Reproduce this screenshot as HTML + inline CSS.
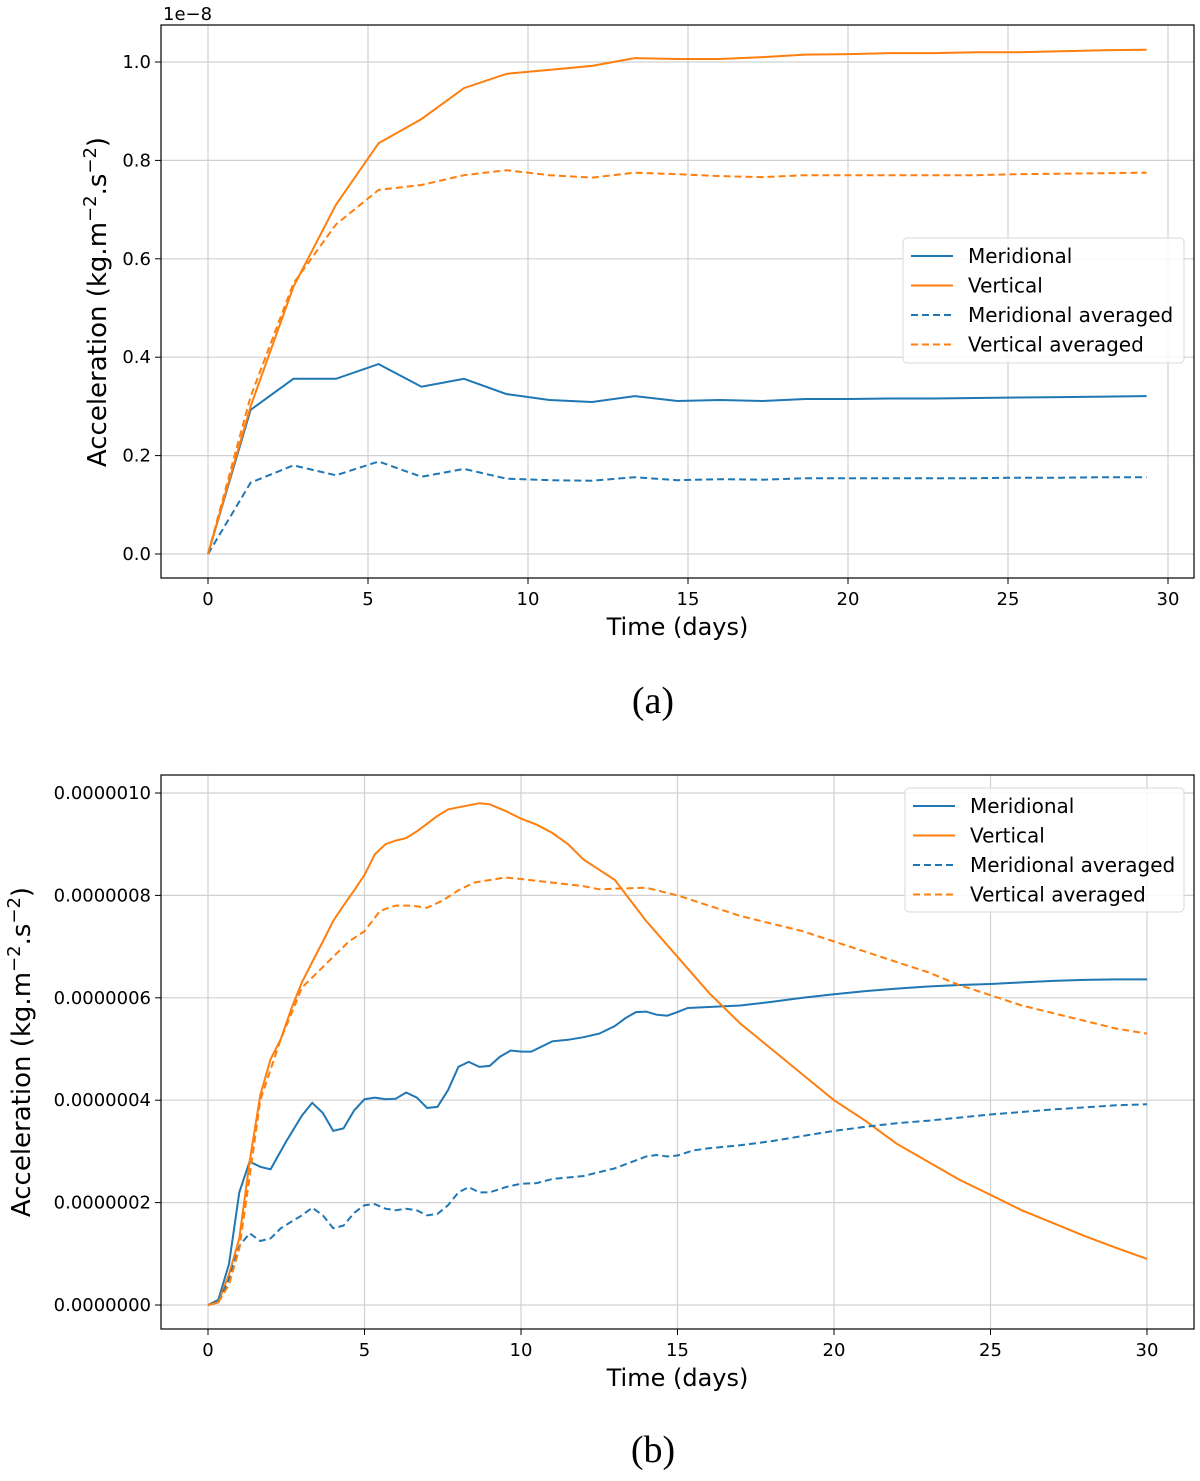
<!DOCTYPE html>
<html><head><meta charset="utf-8"><style>
body{margin:0;background:#fff}
svg text{font-family:"DejaVu Sans","Liberation Sans",sans-serif;fill:#000}
</style></head><body>
<svg id="root" width="1200" height="1476" viewBox="0 0 1200 1476" xmlns="http://www.w3.org/2000/svg">
<g id="chartA"></g>
<g id="chartB"></g>
<text x="653" y="713" text-anchor="middle" style="font-family:'Liberation Serif',serif;font-size:38px">(a)</text>
<text x="653" y="1462" text-anchor="middle" style="font-family:'Liberation Serif',serif;font-size:38px">(b)</text>
</svg>
<script>
// ---- Chart (a) data (units 1e-8), t = i*4/3 days ----
const aTimes = [0,1.33,2.67,4,5.33,6.67,8,9.33,10.67,12,13.33,14.67,16,17.33,18.67,20,21.33,22.67,24,25.33,26.67,28,29.33];
const aMeridional = [0,0.293,0.356,0.356,0.386,0.34,0.356,0.325,0.313,0.309,0.321,0.311,0.313,0.311,0.315,0.315,0.316,0.316,0.317,0.318,0.319,0.32,0.321];
const aVertical = [0,0.30,0.543,0.71,0.835,0.884,0.947,0.976,0.984,0.992,1.008,1.006,1.006,1.01,1.015,1.016,1.018,1.018,1.02,1.02,1.022,1.024,1.025];
const aMeridionalAvg = [0,0.145,0.18,0.16,0.188,0.157,0.173,0.153,0.15,0.149,0.156,0.15,0.152,0.151,0.154,0.154,0.154,0.154,0.154,0.155,0.155,0.156,0.156];
const aVerticalAvg = [0,0.32,0.55,0.67,0.74,0.75,0.77,0.78,0.77,0.765,0.775,0.772,0.768,0.766,0.77,0.77,0.77,0.77,0.77,0.772,0.773,0.774,0.775];
const aXTicks = [0,5,10,15,20,25,30];
const aYTicks = [0,0.2,0.4,0.6,0.8,1.0];
const aYTickLabels = ["0.0","0.2","0.4","0.6","0.8","1.0"];

// ---- Chart (b) data (units 1e-7) ----
const bVTimes = [0,0.33,0.67,1,1.33,1.67,2,2.33,2.67,3,3.33,3.67,4,4.33,4.67,5,5.33,5.67,6,6.33,6.67,7,7.33,7.67,8,8.33,8.67,9,9.5,10,10.5,11,11.5,12,12.5,13,13.5,14,15,16,17,18,19,20,21,22,23,24,25,26,27,28,29,30];
const bVertical = [0,0.05,0.6,1.3,2.8,4.1,4.8,5.2,5.8,6.3,6.7,7.1,7.5,7.8,8.1,8.4,8.8,9.0,9.07,9.12,9.25,9.4,9.55,9.68,9.72,9.76,9.8,9.78,9.65,9.5,9.38,9.22,9.0,8.7,8.5,8.3,7.9,7.5,6.8,6.1,5.5,5.0,4.5,4.0,3.6,3.15,2.8,2.45,2.15,1.85,1.6,1.35,1.12,0.9];
const bVATimes = [0,0.33,0.67,1,1.33,1.67,2,2.33,2.67,3,3.5,4,4.5,5,5.5,6,6.5,7,7.5,8,8.5,9,9.5,10,11,12,12.5,13,14,15,16,17,18,19,20,21,22,23,24,25,26,27,28,29,30];
const bVerticalAvg = [0,0.05,0.4,1.1,2.5,4.0,4.6,5.2,5.7,6.2,6.5,6.8,7.1,7.3,7.7,7.8,7.8,7.76,7.9,8.1,8.25,8.3,8.35,8.32,8.25,8.18,8.12,8.13,8.15,8.0,7.8,7.6,7.45,7.3,7.1,6.9,6.7,6.5,6.25,6.05,5.85,5.7,5.55,5.4,5.3];
const bMTimes = [0,0.33,0.67,1,1.33,1.67,2,2.5,3,3.33,3.67,4,4.33,4.67,5,5.33,5.67,6,6.33,6.67,7,7.33,7.67,8,8.33,8.67,9,9.33,9.67,10,10.33,11,11.5,12,12.5,13,13.33,13.67,14,14.33,14.67,15,15.33,16,17,18,19,20,21,22,23,24,25,26,27,28,29,30];
const bMeridional = [0,0.1,0.8,2.2,2.8,2.7,2.65,3.2,3.7,3.95,3.75,3.4,3.45,3.8,4.02,4.05,4.02,4.03,4.15,4.05,3.85,3.87,4.2,4.65,4.75,4.65,4.67,4.85,4.97,4.95,4.95,5.15,5.18,5.23,5.3,5.45,5.6,5.72,5.73,5.67,5.65,5.72,5.8,5.82,5.85,5.92,6.0,6.07,6.13,6.18,6.22,6.25,6.27,6.3,6.33,6.35,6.36,6.36];
const bMATimes = [0,0.33,0.67,1,1.33,1.67,2,2.33,2.67,3,3.33,3.67,4,4.33,4.67,5,5.33,5.67,6,6.33,6.67,7,7.33,7.67,8,8.33,8.67,9,9.5,10,10.5,11,12,13,14,14.33,14.67,15,15.5,16,17,18,19,20,21,22,23,24,25,26,27,28,29,30];
const bMeridionalAvg = [0,0.05,0.5,1.15,1.4,1.25,1.3,1.5,1.63,1.75,1.9,1.75,1.5,1.55,1.8,1.95,1.97,1.88,1.85,1.88,1.85,1.75,1.78,1.95,2.2,2.3,2.2,2.2,2.3,2.37,2.38,2.46,2.52,2.67,2.9,2.93,2.9,2.92,3.02,3.06,3.12,3.2,3.3,3.4,3.48,3.55,3.6,3.66,3.72,3.77,3.82,3.86,3.9,3.92];
const bXTicks = [0,5,10,15,20,25,30];
const bYTicks = [0,2,4,6,8,10];
const bYTickLabels = ["0.0000000","0.0000002","0.0000004","0.0000006","0.0000008","0.0000010"];
const legendLabels = ["Meridional","Vertical","Meridional averaged","Vertical averaged"];

const NS="http://www.w3.org/2000/svg";
function mk(parent,tag,attrs){const e=document.createElementNS(NS,tag);for(const k in attrs)e.setAttribute(k,attrs[k]);parent.appendChild(e);return e;}

function drawChart(g,cfg){
  const X=v=>cfg.x0+(v-cfg.xmin)*cfg.xs;
  const Y=v=>cfg.y0-v*cfg.ys;
  cfg.xTicks.forEach(t=>{
    const l=mk(g,'line',{x1:X(t),x2:X(t),y1:cfg.top,y2:cfg.bottom,stroke:'#d0d0d0','stroke-width':1.2});
    
    
    const tk=mk(g,'line',{x1:X(t),x2:X(t),y1:cfg.bottom,y2:cfg.bottom+6,stroke:'#000','stroke-width':1});
    
    
    const tx=mk(g,'text',{x:X(t),y:cfg.bottom+27,'text-anchor':'middle','font-size':18});
    tx.textContent=t;
    
    
  });
  cfg.yTicks.forEach((t,i)=>{
    const l=mk(g,'line',{x1:cfg.left,x2:cfg.right,y1:Y(t),y2:Y(t),stroke:'#d0d0d0','stroke-width':1.2});
    
    
    const tk=mk(g,'line',{x1:cfg.left-6,x2:cfg.left,y1:Y(t),y2:Y(t),stroke:'#000','stroke-width':1});
    
    
    const tx=mk(g,'text',{x:cfg.left-10,y:Y(t)+6,'text-anchor':'end','font-size':18});
    tx.textContent=cfg.yLabels[i];
    
    
  });
  const sty=[['#1f77b4',''],['#ff7f0e',''],['#1f77b4','7,4'],['#ff7f0e','7,4']];
  const names=['meridional-line','vertical-line','meridional-averaged-line','vertical-averaged-line'];
  cfg.series.forEach((s,i)=>{
    const d=s.t.map((t,j)=>(j?'L':'M')+X(t).toFixed(1)+','+Y(s.v[j]).toFixed(1)).join('');
    const p=mk(g,'path',{d:d,fill:'none',stroke:sty[i][0],'stroke-width':2,'stroke-dasharray':sty[i][1]||'none'});
    
    
  });
  const fr=mk(g,'rect',{x:cfg.left,y:cfg.top,width:cfg.right-cfg.left,height:cfg.bottom-cfg.top,fill:'none',stroke:'#000','stroke-width':1.2});
  
  
  const xl=mk(g,'text',{x:(cfg.left+cfg.right)/2,y:cfg.bottom+57,'text-anchor':'middle','font-size':24});
  xl.textContent='Time (days)';
  
  
  const yl=mk(g,'text',{transform:`translate(${cfg.ylx},${cfg.yly}) rotate(-90)`,'text-anchor':'middle','font-size':26});
  yl.innerHTML='Acceleration (kg.m<tspan dy="-10" font-size="18">−2</tspan><tspan dy="10">.s</tspan><tspan dy="-10" font-size="18">−2</tspan><tspan dy="10">)</tspan>';
  
  
  const L=cfg.legend;
  const lg=mk(g,'g',{});
  
  
  mk(lg,'rect',{x:L.x,y:L.y,width:L.w,height:L.h,rx:4,fill:'#fff','fill-opacity':0.85,stroke:'#d8d8d8'});
  legendLabels.forEach((lab,i)=>{
    const yy=L.y+18+i*29.5;
    const ln=mk(lg,'line',{x1:L.x+8,x2:L.x+50,y1:yy,y2:yy,stroke:sty[i][0],'stroke-width':2,'stroke-dasharray':sty[i][1]||'none'});
    
    
    const tx=mk(lg,'text',{x:L.x+65,y:yy+7,'font-size':20});
    tx.textContent=lab;
    
    
  });
}

drawChart(document.getElementById('chartA'),{
  left:161,right:1194,top:25,bottom:578,x0:208,xmin:0,xs:32,y0:554,ys:492,
  xTicks:aXTicks,yTicks:aYTicks,yLabels:aYTickLabels,ylx:106,yly:302,
  legend:{x:903,y:238,w:281,h:125},
  series:[{t:aTimes,v:aMeridional},{t:aTimes,v:aVertical},{t:aTimes,v:aMeridionalAvg},{t:aTimes,v:aVerticalAvg}]
});
const gA=document.getElementById('chartA');
const off=mk(gA,'text',{x:163,y:20,'font-size':18});
off.textContent='1e−8';



drawChart(document.getElementById('chartB'),{
  left:161,right:1194,top:775,bottom:1329,x0:208,xmin:0,xs:31.3,y0:1305,ys:51.2,
  xTicks:bXTicks,yTicks:bYTicks,yLabels:bYTickLabels,ylx:30,yly:1052,
  legend:{x:905,y:788,w:279,h:124},
  series:[{t:bMTimes,v:bMeridional},{t:bVTimes,v:bVertical},{t:bMATimes,v:bMeridionalAvg},{t:bVATimes,v:bVerticalAvg}]
});
</script>
</body></html>
